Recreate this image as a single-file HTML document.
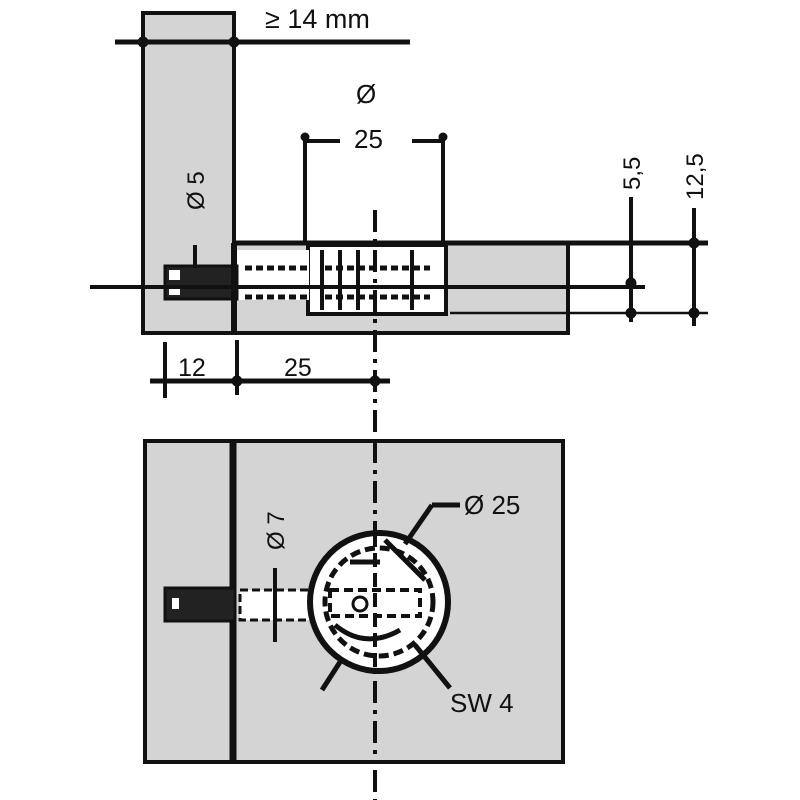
<!DOCTYPE html>
<html><head><meta charset="utf-8"><style>html,body{margin:0;padding:0;background:#fff}svg{display:block}</style></head>
<body>
<svg width="800" height="800" viewBox="0 0 800 800" xmlns="http://www.w3.org/2000/svg" font-family="Liberation Sans, sans-serif" fill="none" stroke="#111">
<!-- top view vertical panel -->
<rect x="143" y="13" width="91" height="320" fill="#d4d4d4" stroke="#111" stroke-width="4"/>
<!-- horizontal panel -->
<rect x="234" y="243" width="334" height="90" fill="#d4d4d4" stroke="#111" stroke-width="4"/>
<line x1="234" y1="243" x2="708" y2="243" stroke-width="5"/>
<!-- cam housing white -->
<rect x="308" y="245" width="138" height="69" fill="#fff" stroke="#111" stroke-width="4"/>
<rect x="237" y="250" width="72" height="50" fill="#fff" stroke="none"/>
<line x1="450" y1="313" x2="708" y2="313" stroke-width="2.5"/>
<line x1="568" y1="243" x2="568" y2="333" stroke-width="4"/>
<!-- threads -->
<g stroke-width="5" stroke-dasharray="7,4">
<line x1="245" y1="268" x2="308" y2="268"/><line x1="245" y1="297" x2="308" y2="297"/>
<line x1="325" y1="268" x2="430" y2="268"/><line x1="325" y1="297" x2="430" y2="297"/>
</g>
<g stroke-width="4">
<line x1="322" y1="250" x2="322" y2="310"/><line x1="340" y1="250" x2="340" y2="310"/>
<line x1="358" y1="250" x2="358" y2="310"/><line x1="412" y1="250" x2="412" y2="310"/>
</g>
<!-- dark pin -->
<rect x="165" y="266" width="72" height="33" fill="#222" stroke="#111" stroke-width="3"/>
<rect x="169" y="270" width="11" height="10" fill="#fff" stroke="none"/>
<rect x="169" y="285" width="11" height="10" fill="#fff" stroke="none"/>
<line x1="234" y1="243" x2="234" y2="333" stroke-width="6"/>
<!-- axis -->
<line x1="90" y1="287" x2="645" y2="287" stroke-width="4"/>
<!-- centerline -->
<line x1="375" y1="210" x2="375" y2="800" stroke-width="4" stroke-dasharray="22,7,4,7"/>
<!-- top dim -->
<line x1="115" y1="42" x2="410" y2="42" stroke-width="5"/>
<circle cx="143" cy="42" r="5" fill="#111"/><circle cx="234" cy="42" r="5" fill="#111"/>
<text x="265" y="28" font-size="27" fill="#111" stroke="none">≥ 14 mm</text>
<!-- Ø25 top -->
<line x1="305" y1="133" x2="305" y2="243" stroke-width="4"/>
<line x1="443" y1="133" x2="443" y2="243" stroke-width="4"/>
<circle cx="305" cy="137" r="4" fill="#111"/><circle cx="443" cy="137" r="4" fill="#111"/>
<line x1="305" y1="141" x2="340" y2="141" stroke-width="4"/><line x1="412" y1="141" x2="443" y2="141" stroke-width="4"/>
<text x="356" y="103" font-size="26" fill="#111" stroke="none">Ø</text>
<text x="354" y="148" font-size="26" fill="#111" stroke="none">25</text>
<!-- Ø5 -->
<text transform="translate(204,210) rotate(-90)" font-size="24" fill="#111" stroke="none">Ø 5</text>
<line x1="195" y1="245" x2="195" y2="268" stroke-width="4"/>
<!-- right dims -->
<line x1="631" y1="197" x2="631" y2="322" stroke-width="4"/>
<line x1="694" y1="208" x2="694" y2="326" stroke-width="4"/>
<circle cx="631" cy="283" r="5" fill="#111"/><circle cx="631" cy="313" r="5" fill="#111"/>
<circle cx="694" cy="243" r="5" fill="#111"/><circle cx="694" cy="313" r="5" fill="#111"/>
<text transform="translate(640,190) rotate(-90)" font-size="24" fill="#111" stroke="none">5,5</text>
<text transform="translate(703,200) rotate(-90)" font-size="24" fill="#111" stroke="none">12,5</text>
<!-- bottom dims top view -->
<line x1="150" y1="381" x2="390" y2="381" stroke-width="5"/>
<line x1="165" y1="342" x2="165" y2="398" stroke-width="4"/>
<line x1="237" y1="340" x2="237" y2="395" stroke-width="4"/>
<circle cx="237" cy="381" r="5" fill="#111"/><circle cx="375" cy="381" r="5" fill="#111"/>
<text x="178" y="376" font-size="25" fill="#111" stroke="none">12</text>
<text x="284" y="376" font-size="25" fill="#111" stroke="none">25</text>
<!-- bottom view -->
<rect x="145" y="441" width="418" height="321" fill="#d4d4d4" stroke="#111" stroke-width="4"/>
<line x1="233" y1="441" x2="233" y2="762" stroke-width="7"/>
<line x1="375" y1="441" x2="375" y2="762" stroke-width="4" stroke-dasharray="22,7,4,7"/>
<rect x="165" y="588" width="70" height="33" fill="#222" stroke="#111" stroke-width="3"/>
<rect x="172" y="598" width="7" height="11" fill="#fff" stroke="none"/>
<rect x="240" y="590" width="72" height="30" fill="#fff" stroke="#111" stroke-width="3" stroke-dasharray="8,4"/>
<line x1="275" y1="568" x2="275" y2="642" stroke-width="4"/>
<text transform="translate(284,550) rotate(-90)" font-size="24" fill="#111" stroke="none">Ø 7</text>
<circle cx="379" cy="602" r="69" fill="#fff" stroke="#111" stroke-width="6"/>
<circle cx="379" cy="602" r="54" stroke="#111" stroke-width="5" stroke-dasharray="10,5" fill="none"/>
<line x1="375" y1="533" x2="375" y2="671" stroke-width="4" stroke-dasharray="14,6"/>
<line x1="385" y1="540" x2="425" y2="580" stroke-width="5"/>
<line x1="415" y1="645" x2="450" y2="688" stroke-width="5"/>
<line x1="405" y1="544" x2="432" y2="505" stroke-width="5"/>
<line x1="432" y1="505" x2="460" y2="505" stroke-width="5"/>
<line x1="322" y1="690" x2="340" y2="662" stroke-width="5"/>
<line x1="350" y1="562" x2="380" y2="562" stroke-width="5"/>
<rect x="330" y="590" width="90" height="26" stroke-width="4" stroke-dasharray="9,5"/>
<circle cx="360" cy="604" r="7" stroke-width="3"/>
<path d="M335 625 Q365 650 400 630" stroke-width="5"/>
<text x="464" y="514" font-size="26" fill="#111" stroke="none">Ø 25</text>
<text x="450" y="712" font-size="26" fill="#111" stroke="none">SW 4</text>
</svg>
</body></html>
